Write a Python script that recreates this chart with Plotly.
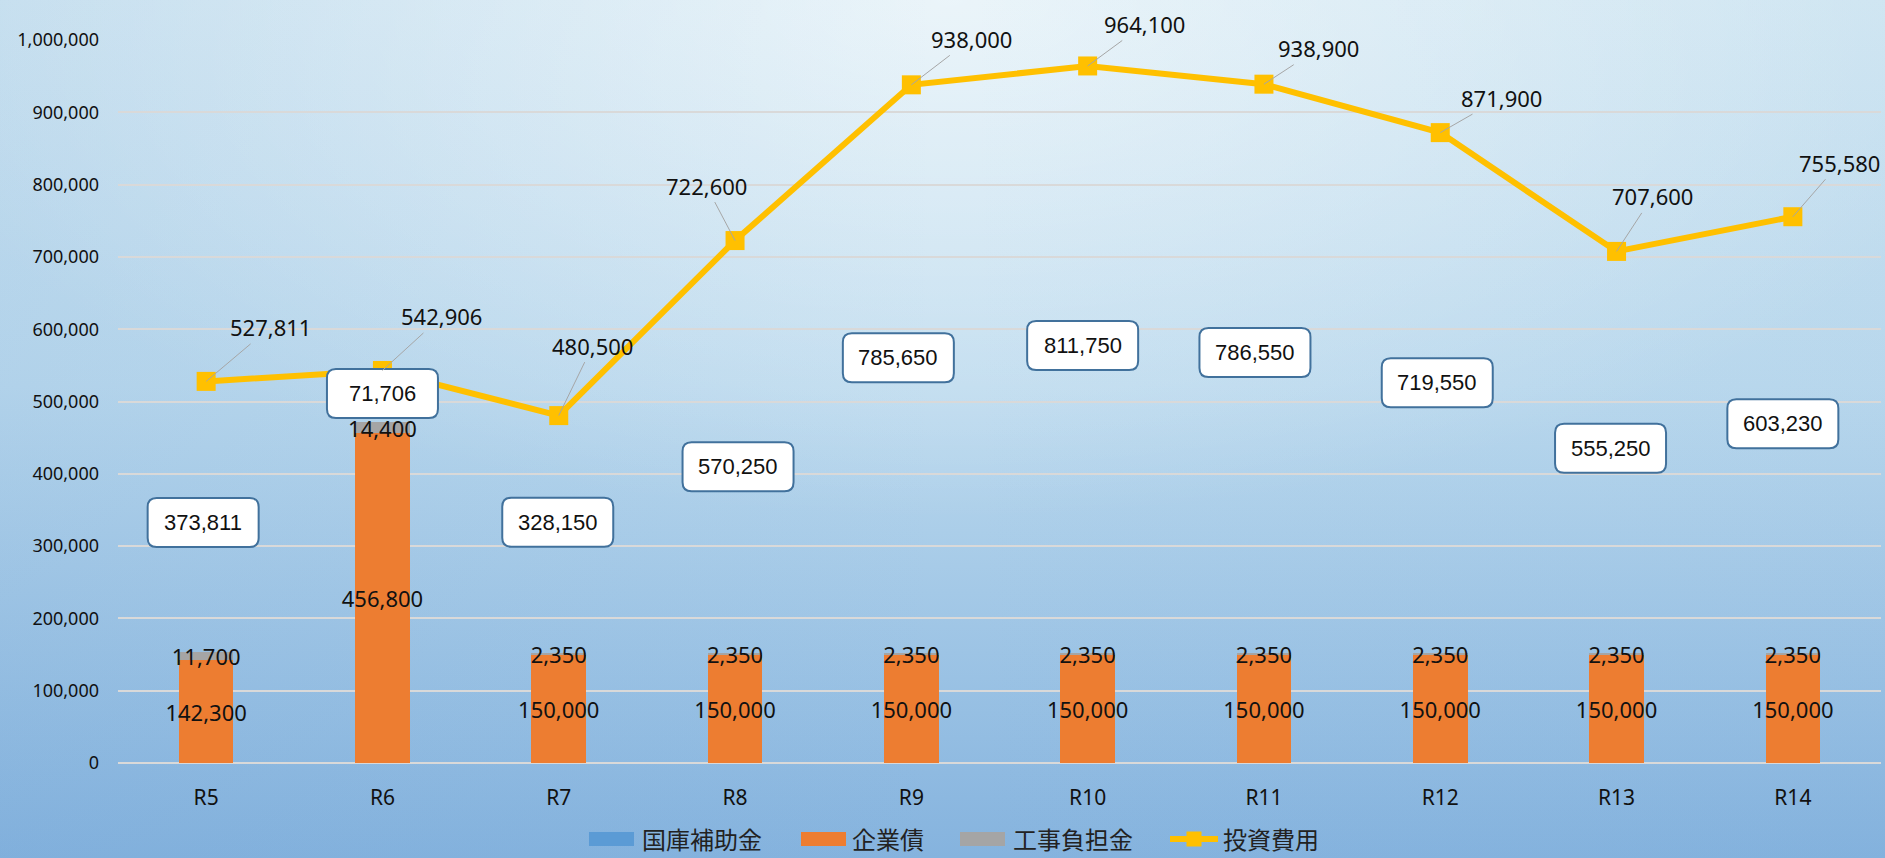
import base64
import plotly.graph_objects as go

# ---------------- data ----------------
categories = ["R5", "R6", "R7", "R8", "R9", "R10", "R11", "R12", "R13", "R14"]
kokko_hojokin = [0, 0, 0, 0, 0, 0, 0, 0, 0, 0]                     # 国庫補助金
kigyosai = [142300, 456800, 150000, 150000, 150000, 150000, 150000, 150000, 150000, 150000]  # 企業債
koji_futankin = [11700, 14400, 2350, 2350, 2350, 2350, 2350, 2350, 2350, 2350]             # 工事負担金
sonota = [373811, 71706, 328150, 570250, 785650, 811750, 786550, 719550, 555250, 603230]   # その他財源(非表示)
toshi_hiyo = [527811, 542906, 480500, 722600, 938000, 964100, 938900, 871900, 707600, 755580]  # 投資費用

series_names = ["国庫補助金", "企業債", "工事負担金", "投資費用"]
series_colors = ["#5B9BD5", "#ED7D31", "#A5A5A5", "#FFC000"]

# ---------------- styles (pixel nudges of labels) ----------------
line_label_offsets = [(64, -54), (59, -54), (34, -70), (-29, -55), (60, -46),
                      (57, -42), (55, -36), (61, -35), (36, -55), (47, -54)]
box_nudges = [(-3, 6), (0, -3), (-1, -12), (3, 20), (-13, -11),
              (-5, -14), (-9, -16), (-3, -10), (-6, -4), (-10, -11)]
# legend layout in canvas pixels: (swatch left, text left)
legend_slots = [(589, 641), (801, 851), (960, 1012), (1168, 1222)]
LEG_Y = 839

W, H = 1885, 858
ML, MR, MT, MB = 118, 4, 40, 95
PW, PH = W - ML - MR, H - MT - MB

LABEL_FONT = "Noto Sans, Noto Sans CJK JP, sans-serif"
BOX_FONT = "Liberation Sans, Arial, sans-serif"
CJK_FONT = "Noto Sans CJK JP, Noto Sans, sans-serif"


def fmt(v):
    return f"{v:,}"


def px(xp):
    return (xp - ML) / PW


def py(yp):
    return (H - MB - yp) / PH


fig = go.Figure()

fig.add_trace(go.Bar(
    x=categories, y=kokko_hojokin, name=series_names[0],
    marker=dict(color=series_colors[0], line=dict(width=0)),
))
fig.add_trace(go.Bar(
    x=categories, y=kigyosai, name=series_names[1],
    marker=dict(color=series_colors[1], line=dict(width=0)),
    text=[fmt(v) for v in kigyosai], textposition="inside",
    insidetextanchor="middle", constraintext="none", textangle=0,
    insidetextfont=dict(family=LABEL_FONT, size=22, color="#111111"),
    cliponaxis=False,
))
fig.add_trace(go.Bar(
    x=categories, y=koji_futankin, name=series_names[2],
    marker=dict(color=series_colors[2], line=dict(width=0)),
    text=[fmt(v) for v in koji_futankin], textposition="inside",
    insidetextanchor="middle", constraintext="none", textangle=0,
    insidetextfont=dict(family=LABEL_FONT, size=22, color="#111111"),
    cliponaxis=False,
))
fig.add_trace(go.Bar(
    x=categories, y=sonota, name="その他",
    marker=dict(color="rgba(0,0,0,0)", line=dict(width=0)), showlegend=False,
))
fig.add_trace(go.Scatter(
    x=categories, y=toshi_hiyo, name=series_names[3], mode="lines+markers",
    line=dict(color=series_colors[3], width=6),
    marker=dict(symbol="square", size=19, color=series_colors[3]),
    cliponaxis=False,
))

shapes = []
annotations = []

# leader-line labels for the line series
for i, v in enumerate(toshi_hiyo):
    dx, dy = line_label_offsets[i]
    annotations.append(dict(
        x=i, y=v, xref="x", yref="y", text=fmt(v), showarrow=True,
        ax=dx, ay=dy, arrowhead=0, arrowwidth=1, arrowcolor="#A6A6A6",
        standoff=0, startstandoff=0,
        font=dict(family=LABEL_FONT, size=22, color="#111111"),
    ))

# rounded label boxes for the hidden segment
bw, bh, r = 111, 49, 9
for i, v in enumerate(sonota):
    base = kokko_hojokin[i] + kigyosai[i] + koji_futankin[i]
    mid = base + v / 2
    dx, dy = box_nudges[i]
    cx, cy = dx, -dy
    x0, x1 = cx - bw / 2, cx + bw / 2
    y0, y1 = cy - bh / 2, cy + bh / 2
    path = (f"M{x0 + r},{y0} L{x1 - r},{y0} Q{x1},{y0} {x1},{y0 + r} "
            f"L{x1},{y1 - r} Q{x1},{y1} {x1 - r},{y1} L{x0 + r},{y1} "
            f"Q{x0},{y1} {x0},{y1 - r} L{x0},{y0 + r} Q{x0},{y0} {x0 + r},{y0} Z")
    shapes.append(dict(
        type="path", xref="x", yref="y", xsizemode="pixel", ysizemode="pixel",
        xanchor=i, yanchor=mid, path=path, layer="above",
        fillcolor="white", line=dict(color="#41719C", width=2),
    ))
    annotations.append(dict(
        x=i, y=mid, xref="x", yref="y", text=fmt(v), showarrow=False,
        xshift=dx, yshift=-dy,
        font=dict(family=BOX_FONT, size=22, color="#111111"),
    ))

# legend (drawn to match the wide swatches of the original)
for k, (name, col) in enumerate(zip(series_names, series_colors)):
    sx, tx = legend_slots[k]
    if k < 3:
        shapes.append(dict(
            type="rect", xref="paper", yref="paper",
            x0=px(sx), x1=px(sx + 45), y0=py(LEG_Y + 7), y1=py(LEG_Y - 7),
            fillcolor=col, line=dict(width=0), layer="above",
        ))
    else:
        shapes.append(dict(
            type="line", xref="paper", yref="paper",
            x0=px(sx + 2), x1=px(sx + 50), y0=py(LEG_Y), y1=py(LEG_Y),
            line=dict(color=col, width=6), layer="above",
        ))
        shapes.append(dict(
            type="rect", xref="paper", yref="paper",
            x0=px(sx + 18.5), x1=px(sx + 33.5), y0=py(LEG_Y + 7.5), y1=py(LEG_Y - 7.5),
            fillcolor=col, line=dict(width=0), layer="above",
        ))
    annotations.append(dict(
        x=px(tx), y=py(LEG_Y - 1), xref="paper", yref="paper",
        xanchor="left", yanchor="middle", text=name, showarrow=False,
        borderpad=0,
        font=dict(family=CJK_FONT, size=24, color="#222222"),
    ))

# gradient background as an svg image
svg = f"""<svg xmlns='http://www.w3.org/2000/svg' width='{W}' height='{H}' viewBox='0 0 {W} {H}' preserveAspectRatio='none'>
<defs>
<linearGradient id='v' x1='0' y1='0' x2='0' y2='1'>
<stop offset='0' stop-color='#D2E8F3'/>
<stop offset='0.45' stop-color='#BCDAEE'/>
<stop offset='1' stop-color='#85B3DE'/>
</linearGradient>
<radialGradient id='g' gradientUnits='userSpaceOnUse' cx='0' cy='0' r='1' gradientTransform='translate(950 0) scale(1100 520)'>
<stop offset='0' stop-color='#FFFFFF' stop-opacity='0.55'/>
<stop offset='1' stop-color='#FFFFFF' stop-opacity='0'/>
</radialGradient>
<linearGradient id='h' x1='0' y1='0' x2='1' y2='0'>
<stop offset='0' stop-color='#5F95CC' stop-opacity='0.12'/>
<stop offset='0.5' stop-color='#5F95CC' stop-opacity='0'/>
<stop offset='1' stop-color='#5F95CC' stop-opacity='0.05'/>
</linearGradient>
</defs>
<rect x='0' y='0' width='{W}' height='{H}' fill='url(#v)'/>
<rect x='0' y='0' width='{W}' height='{H}' fill='url(#g)'/>
<rect x='0' y='0' width='{W}' height='{H}' fill='url(#h)'/>
</svg>"""
src = "data:image/svg+xml;base64," + base64.b64encode(svg.encode()).decode()

fig.update_layout(
    width=W, height=H,
    margin=dict(l=ML, r=MR, t=MT, b=MB, pad=0),
    barmode="stack", bargap=0.69,
    paper_bgcolor="#B9D7EE", plot_bgcolor="rgba(0,0,0,0)",
    font=dict(family=LABEL_FONT, color="#111111"),
    showlegend=False,
    images=[dict(
        source=src, xref="paper", yref="paper",
        x=-ML / PW, y=1 + MT / PH, sizex=W / PW, sizey=H / PH,
        xanchor="left", yanchor="top", sizing="stretch", layer="below",
    )],
    xaxis=dict(
        type="category", range=[-0.5, len(categories) - 0.5],
        showgrid=False, showline=False, zeroline=False,
        ticks="", tickfont=dict(family=LABEL_FONT, size=21, color="#111111"),
        ticklabelstandoff=20,
    ),
    yaxis=dict(
        range=[0, 1000000], dtick=100000, tickformat=",d",
        showgrid=True, gridcolor="#D9D9D9", gridwidth=1.5,
        zeroline=True, zerolinecolor="#D9D9D9", zerolinewidth=2,
        showline=False, ticks="",
        tickfont=dict(family=LABEL_FONT, size=18, color="#111111"),
        ticklabelstandoff=18,
    ),
    shapes=shapes, annotations=annotations,
    hovermode="x",
)

fig.write_html("out.html")
